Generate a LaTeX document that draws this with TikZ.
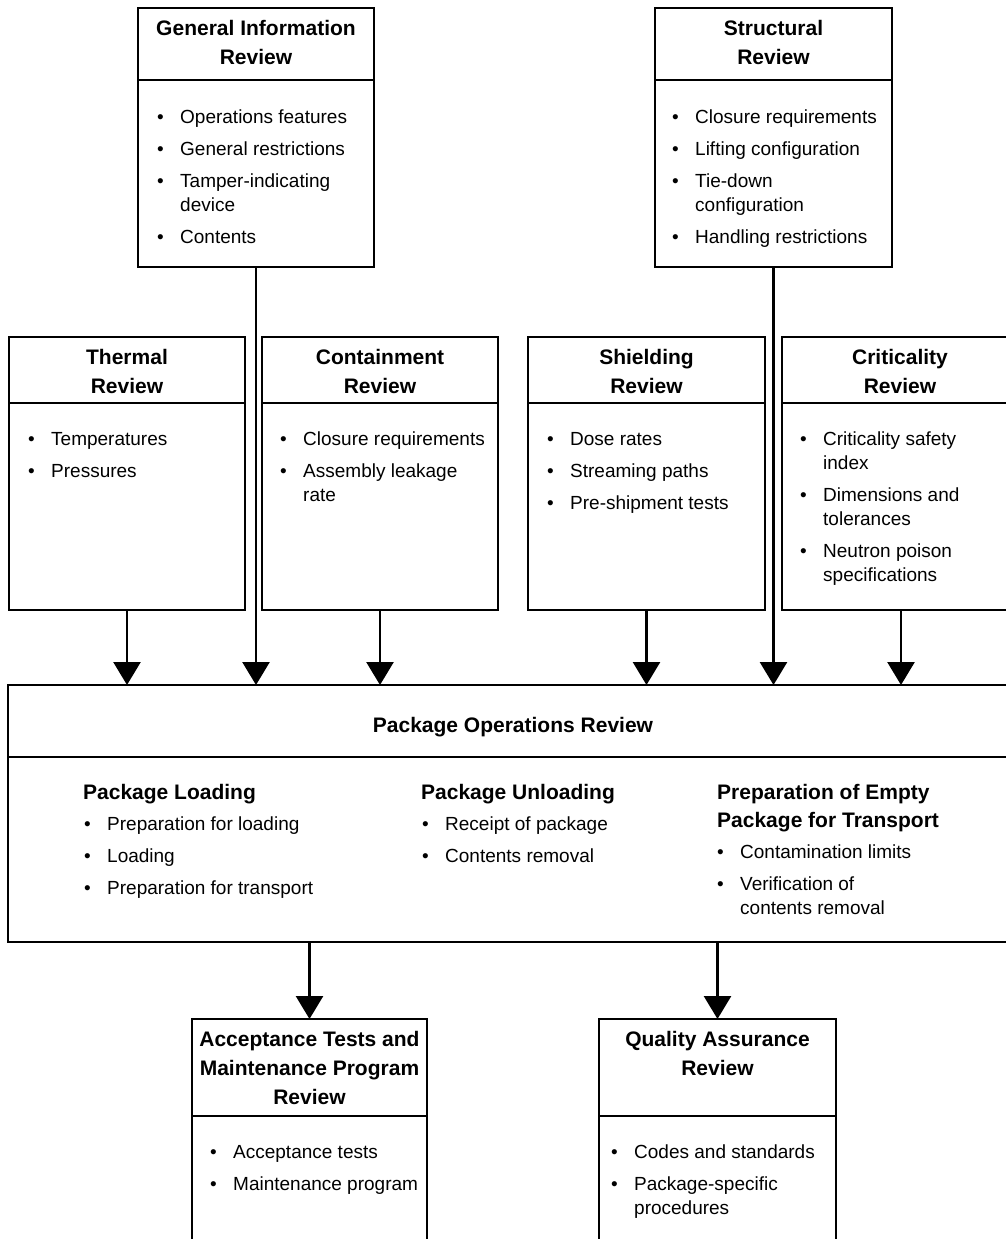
\documentclass[tikz,border=0pt]{standalone}
\usepackage{fontspec}
\setmainfont{Liberation Sans}
\usetikzlibrary{arrows.meta}
\newcommand{\bi}{\makebox[23pt][l]{\textbullet}}
\newcommand{\ci}{\hspace*{23pt}}
\tikzset{
  box/.style={draw, line width=2.7pt, anchor=north west, inner sep=0pt, outer sep=0pt},
  divider/.style={line width=2.7pt},
  ttl/.style={font=\fontsize{21}{29}\selectfont\bfseries, align=center, inner sep=0pt, anchor=north},
  hdg/.style={font=\fontsize{21}{28}\selectfont\bfseries, align=left, inner sep=0pt, anchor=north west},
  body/.style={font=\fontsize{19}{24}\selectfont, align=left, inner sep=0pt, anchor=north west},
  arr/.style={line width=2.7pt, -{Triangle[width=27pt,length=23pt]}},
}
\begin{document}
\begin{tikzpicture}[x=1pt,y=-1pt]
\useasboundingbox (0,0) rectangle (1006,1239);
\fill[white] (0,0) rectangle (1006,1239);
% divider levels
\coordinate (d1) at (0,80);
\coordinate (d2) at (0,403);
\coordinate (d3) at (0,757);
\coordinate (d4) at (0,1116);
% boxes
\node[box, minimum width=236pt, minimum height=259pt] (gen) at (138,8) {};
\node[box, minimum width=237pt, minimum height=259pt] (str) at (655,8) {};
\node[box, minimum width=236pt, minimum height=273pt] (the) at (9,337) {};
\node[box, minimum width=236pt, minimum height=273pt] (con) at (262,337) {};
\node[box, minimum width=237pt, minimum height=273pt] (shi) at (528,337) {};
\node[box, minimum width=238pt, minimum height=273pt] (cri) at (782,337) {};
\node[box, minimum width=1010pt, minimum height=257pt] (pkg) at (8,685) {};
\node[box, minimum width=235pt, minimum height=260pt] (acc) at (192,1019) {};
\node[box, minimum width=237pt, minimum height=260pt] (qa) at (599,1019) {};
% dividers
\draw[divider] (gen.west |- d1) -- (gen.east |- d1);
\draw[divider] (str.west |- d1) -- (str.east |- d1);
\draw[divider] (the.west |- d2) -- (the.east |- d2);
\draw[divider] (con.west |- d2) -- (con.east |- d2);
\draw[divider] (shi.west |- d2) -- (shi.east |- d2);
\draw[divider] (cri.west |- d2) -- (cri.east |- d2);
\draw[divider] (pkg.west |- d3) -- (pkg.east |- d3);
\draw[divider] (acc.west |- d4) -- (acc.east |- d4);
\draw[divider] (qa.west |- d4) -- (qa.east |- d4);
% titles
\node[ttl] (genT) at (256,15) {\strut General Information\\Review};
\node[ttl] (strT) at (773.5,15) {\strut Structural\\Review};
\node[ttl] (theT) at (127,344) {\strut Thermal\\Review};
\node[ttl] (conT) at (380,344) {\strut Containment\\Review};
\node[ttl] (shiT) at (646.5,344) {\strut Shielding\\Review};
\node[ttl] (criT) at (900,344) {\strut Criticality\\Review};
\node[ttl, anchor=base] (pkgT) at (513,732.5) {Package Operations Review};
\node[ttl] (accT) at (309.5,1026) {\strut Acceptance Tests and\\Maintenance Program\\Review};
\node[ttl] (qaT) at (717.5,1026) {\strut Quality Assurance\\Review};
% bodies
\node[body] (genB) at (157,106.7) {\strut\bi Operations features\\[8pt]\bi General restrictions\\[8pt]\bi Tamper-indicating\\\ci device\\[8pt]\bi Contents};
\node[body] (strB) at (672,106.7) {\strut\bi Closure requirements\\[8pt]\bi Lifting configuration\\[8pt]\bi Tie-down\\\ci configuration\\[8pt]\bi Handling restrictions};
\node[body] (theB) at (28,428.7) {\strut\bi Temperatures\\[8pt]\bi Pressures};
\node[body] (conB) at (280,428.7) {\strut\bi Closure requirements\\[8pt]\bi Assembly leakage\\\ci rate};
\node[body] (shiB) at (547,428.7) {\strut\bi Dose rates\\[8pt]\bi Streaming paths\\[8pt]\bi Pre-shipment tests};
\node[body] (criB) at (800,428.7) {\strut\bi Criticality safety\\\ci index\\[8pt]\bi Dimensions and\\\ci tolerances\\[8pt]\bi Neutron poison\\\ci specifications};
% package operations sections
\node[hdg] (loadH) at (83,779.4) {\strut Package Loading};
\node[body] (loadB) at (84,813.7) {\strut\bi Preparation for loading\\[8pt]\bi Loading\\[8pt]\bi Preparation for transport};
\node[hdg] (unlH) at (421,779.4) {\strut Package Unloading};
\node[body] (unlB) at (422,813.7) {\strut\bi Receipt of package\\[8pt]\bi Contents removal};
\node[hdg] (empH) at (717,779.4) {\strut Preparation of Empty\\Package for Transport};
\node[body] (empB) at (717,841.7) {\strut\bi Contamination limits\\[8pt]\bi Verification of\\\ci contents removal};
\node[body] (accB) at (210,1141.7) {\strut\bi Acceptance tests\\[8pt]\bi Maintenance program};
\node[body] (qaB) at (611,1141.7) {\strut\bi Codes and standards\\[8pt]\bi Package-specific\\\ci procedures};
% connectors
\draw[arr] (the.south) -- (the.south |- pkg.north);
\draw[arr] (gen.south) -- (gen.south |- pkg.north);
\draw[arr] (con.south) -- (con.south |- pkg.north);
\draw[arr] (shi.south) -- (shi.south |- pkg.north);
\draw[arr] (str.south) -- (str.south |- pkg.north);
\draw[arr] (cri.south) -- (cri.south |- pkg.north);
\draw[arr] (acc.north |- pkg.south) -- (acc.north);
\draw[arr] (qa.north |- pkg.south) -- (qa.north);
\end{tikzpicture}
\end{document}
